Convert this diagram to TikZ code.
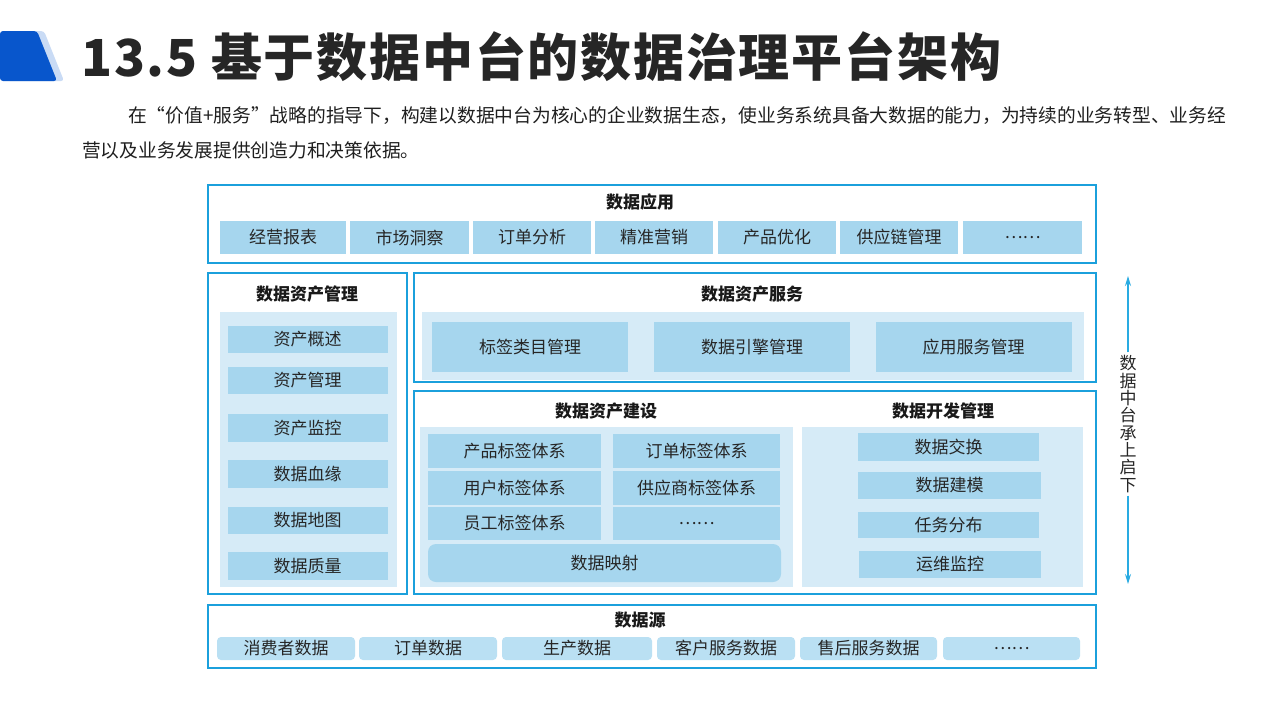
\documentclass[tikz,border=0pt]{standalone}
\usepackage{fontspec}
\setmainfont{Noto Sans CJK SC}
\usetikzlibrary{arrows.meta}

\definecolor{frameblue}{RGB}{27,160,220}
\definecolor{panelblue}{RGB}{214,235,247}
\definecolor{cellblue}{RGB}{166,214,238}
\definecolor{srcblue}{RGB}{186,224,243}
\definecolor{logoblue}{RGB}{8,86,204}
\definecolor{logoshade}{RGB}{201,219,245}
\definecolor{titlegray}{RGB}{38,38,38}
\definecolor{arrowblue}{RGB}{41,171,226}

\tikzset{
  outerbox/.style={draw=frameblue, line width=1.8pt, fill=white},
  innerpanel/.style={fill=panelblue},
  cellbox/.style={fill=cellblue, inner sep=0pt, outer sep=0pt, font=\fontsize{17}{17}\selectfont, text=black!85},
  headtext/.style={font=\fontsize{17}{17}\selectfont\bfseries, text=black!90},
}

\begin{document}
\begin{tikzpicture}[x=1pt, y=-1pt]
\fill[white] (0,0) rectangle (1280,720);
\useasboundingbox (0,0) rectangle (1280,720);

% logo
\fill[logoshade, rounded corners=3pt] (7,31) -- (44,31) -- (64,81) -- (7,81) -- cycle;
\fill[logoblue, rounded corners=3pt] (0,31) -- (37,31) -- (57,81) -- (0,81) -- cycle;

% title
\node[anchor=west, inner sep=0pt, text=titlegray, font=\fontsize{51}{51}\selectfont\bfseries\addfontfeature{LetterSpace=3.5}] (title) at (81,57) {13.5 基于数据中台的数据治理平台架构};

% text
\node[anchor=west, inner sep=0pt, text=black!88, font=\fontsize{18.75}{20}\selectfont] (para1) at (128,116) {在“价值+服务”战略的指导下，构建以数据中台为核心的企业数据生态，使业务系统具备大数据的能力，为持续的业务转型、业务经};
\node[anchor=west, inner sep=0pt, text=black!88, font=\fontsize{18.75}{20}\selectfont] (para2) at (82,150) {营以及业务发展提供创造力和决策依据。};

% 数据应用
\draw[outerbox] (208,185) rectangle (1096,263);
\node[headtext] (apphead) at (640,202) {数据应用};
\foreach \a/\b/\t [count=\i] in {220/346/经营报表, 350/469/市场洞察, 473/591/订单分析, 595/713/精准营销, 718/836/产品优化, 840/958/供应链管理, 963/1082/……} {
  \node[cellbox, minimum width={(\b-\a)*1pt}, minimum height=33pt] (app\i) at ({(\a+\b)/2},237.5) {\t};
}

% 数据资产管理
\draw[outerbox] (208,273) rectangle (407,594);
\node[headtext] (mgmthead) at (307,294) {数据资产管理};
\fill[innerpanel] (220,312) rectangle (397,587);
\foreach \y/\h/\t [count=\i] in {339.5/27/资产概述, 380.5/27/资产管理, 428/28/资产监控, 474/28/数据血缘, 520.5/27/数据地图, 566/28/数据质量} {
  \node[cellbox, minimum width=160pt, minimum height=\h] (mgmt\i) at (307.5,\y) {\t};
}

% 数据资产服务
\draw[outerbox] (414,273) rectangle (1096,382);
\node[headtext] (svchead) at (752,294) {数据资产服务};
\fill[innerpanel] (422,312) rectangle (1084,380);
\foreach \x/\t [count=\i] in {530/标签类目管理, 752/数据引擎管理, 973.5/应用服务管理} {
  \node[cellbox, minimum width=196pt, minimum height=50pt] (svc\i) at (\x,347) {\t};
}

% 数据资产建设 / 数据开发管理
\draw[outerbox] (414,391) rectangle (1096,594);
\node[headtext] (buildhead) at (606,411) {数据资产建设};
\node[headtext] (devhead) at (943,411) {数据开发管理};
\fill[innerpanel] (420,427) rectangle (793,587);
\fill[innerpanel] (802,427) rectangle (1083,587);
\foreach \y/\h/\s/\t [count=\i] in {451/34/产品标签体系/订单标签体系, 488/34/用户标签体系/供应商标签体系, 523.5/33/员工标签体系/……} {
  \node[cellbox, minimum width=173pt, minimum height=\h] (tagl\i) at (514.5,\y) {\s};
  \node[cellbox, minimum width=167pt, minimum height=\h] (tagr\i) at (696.5,\y) {\t};
}
\node[cellbox, rounded corners=8pt, minimum width=353pt, minimum height=38pt] (mapping) at (604.5,563) {数据映射};
\foreach \x/\y/\w/\h/\t [count=\i] in {948.5/447/181/28/数据交换, 949.5/485.5/183/27/数据建模, 948.5/525/181/26/任务分布, 950/564.5/182/27/运维监控} {
  \node[cellbox, minimum width=\w, minimum height=\h] (dev\i) at (\x,\y) {\t};
}

% 数据源
\draw[outerbox] (208,605) rectangle (1096,668);
\node[headtext] (srchead) at (640,620) {数据源};
\foreach \a/\b/\t [count=\i] in {217/355/消费者数据, 359/497/订单数据, 502/652/生产数据, 657/795/客户服务数据, 800/937/售后服务数据, 943/1080/……} {
  \node[cellbox, fill=srcblue, rounded corners=4pt, minimum width={(\b-\a)*1pt}, minimum height=23pt] (src\i) at ({(\a+\b)/2},648.5) {\t};
}

% 承上启下
\coordinate (arrtop) at (1128,276);
\coordinate (arrbot) at (1128,584);
\node[align=center, inner sep=3pt, font=\fontsize{17}{17.3}\selectfont, text=black!85] (midtext) at (1128,424) {数\\据\\中\\台\\承\\上\\启\\下};
\draw[arrowblue, line width=1.2pt, -{Stealth[length=10pt, width=6pt]}] (midtext.north) -- (arrtop);
\draw[arrowblue, line width=1.2pt, -{Stealth[length=10pt, width=6pt]}] (midtext.south) -- (arrbot);

\end{tikzpicture}
\end{document}
